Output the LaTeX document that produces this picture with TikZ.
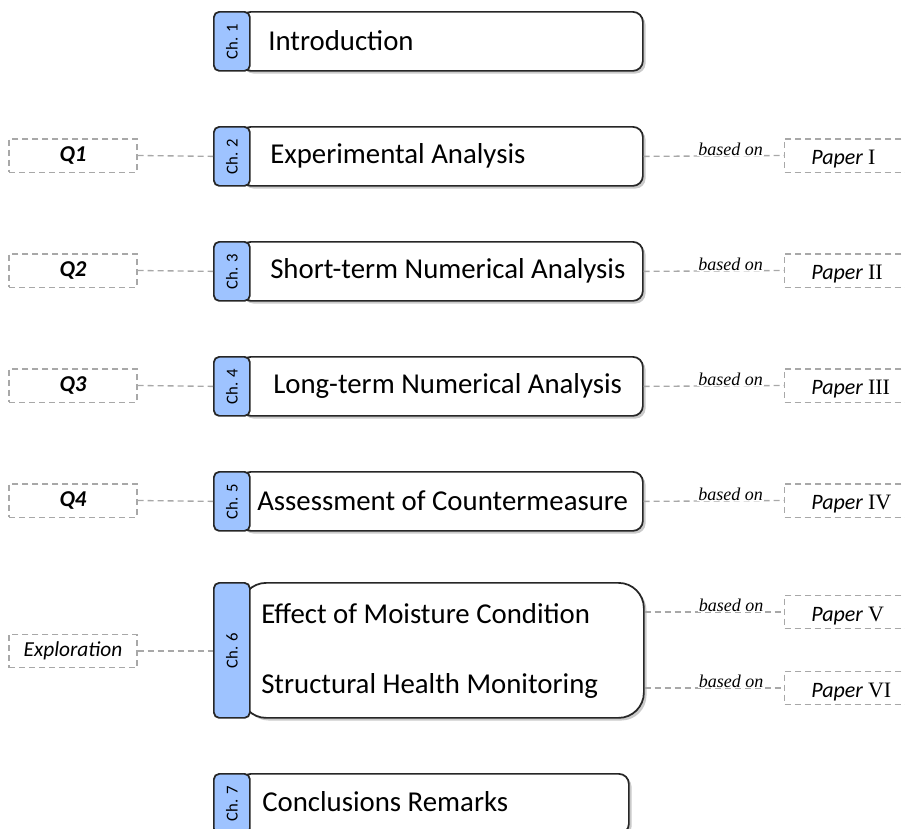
\documentclass[tikz,border=0pt]{standalone}
\usepackage{fontspec}
\setmainfont{Carlito}
\newfontfamily\serifrm{Liberation Serif}
\usetikzlibrary{shadows}
\definecolor{tabblue}{HTML}{9EC3FF}
\definecolor{dgray}{HTML}{A8A8A8}
\begin{document}
\begin{tikzpicture}[x=0.75pt,y=-0.75pt,
  mainbox/.style={draw=black!85, line width=1.3pt, fill=white, rounded corners=7.5pt, anchor=north west, inner sep=0pt,
    drop shadow={shadow xshift=2pt, shadow yshift=-2pt, opacity=0.35, fill=black!60}},
  tabbox/.style={draw=black!85, line width=1.3pt, fill=tabblue, rounded corners=4pt, anchor=north west, inner sep=0pt, minimum width=27pt},
  tabtext/.style={font=\fontsize{12.5}{14}\selectfont, rotate=90, inner sep=0pt},
  titletext/.style={font=\fontsize{21.6}{26}\selectfont, anchor=west, inner sep=0pt},
  sidebox/.style={draw=dgray, line width=1pt, dash pattern=on 4.5pt off 3pt, minimum width=96pt, minimum height=25pt, inner sep=0pt},
  rightbox/.style={sidebox, anchor=west, minimum width=110pt},
  papertext/.style={anchor=west, inner sep=0pt, font=\fontsize{16.5}{19}\selectfont, yshift=-3pt},
  link/.style={draw=dgray, line width=1pt, dash pattern=on 4.5pt off 3pt},
  qtext/.style={font=\fontsize{17}{20}\selectfont\bfseries\itshape},
  etext/.style={font=\fontsize{16}{19}\selectfont\itshape},
  basedon/.style={font=\serifrm\itshape\fontsize{13.5}{15}\selectfont, anchor=base, fill=white, inner xsep=1pt, inner ysep=0.5pt, pos=0.62, yshift=0.6pt}
]
\useasboundingbox (0,0) rectangle (905,828);

% chapter boxes
\newcommand\chapbox[6]{% name, top, height, right, label, corner
  \node[mainbox, rounded corners=#6, minimum width={(#4-240)*0.75pt}, minimum height={#3*0.75pt}] (m#1) at (240,#2) {};
  \node[tabbox, minimum height={#3*0.75pt}] (t#1) at (213,#2) {};
  \node[tabtext] at (t#1.center) {#5};
}
\chapbox{1}{11}{59}{642}{Ch. 1}{7.5pt}
\chapbox{2}{126}{59}{642}{Ch. 2}{7.5pt}
\chapbox{3}{241}{59}{642}{Ch. 3}{7.5pt}
\chapbox{4}{356}{59}{642}{Ch. 4}{7.5pt}
\chapbox{5}{471}{59}{642}{Ch. 5}{7.5pt}
\chapbox{6}{582}{135}{643}{Ch. 6}{19pt}
\chapbox{7}{773}{60}{628}{Ch. 7}{7.5pt}

% titles
\node[titletext] (x1) at (268,40.5) {Introduction};
\node[titletext] (x2) at (270,155.5) {Experimental Analysis};
\node[titletext] (x3) at (270,270.5) {Short-term Numerical Analysis};
\node[titletext] (x4) at (273,385.5) {Long-term Numerical Analysis};
\node[titletext] (x5) at (257,500.5) {Assessment of Countermeasure};
\node[titletext] (x6a) at (261,614) {Effect of Moisture Condition};
\node[titletext] (x6b) at (261,686) {Structural Health Monitoring};
\node[titletext] (x7) at (262,802) {Conclusions Remarks};

% left boxes
\node[sidebox, qtext] (q1) at (73,155.5) {Q1};
\node[sidebox, qtext] (q2) at (73,270.5) {Q2};
\node[sidebox, qtext] (q3) at (73,385.5) {Q3};
\node[sidebox, qtext] (q4) at (73,500.5) {Q4};
\node[sidebox, etext] (q6) at (73,651) {Exploration};
\foreach \i/\j in {q1/t2,q2/t3,q3/t4,q4/t5} \draw[link] (\i.east) -- (\j.west);
\draw[link] (q6.east) -- (q6.east -| t6.west);

% right boxes
\node[rightbox] (p2) at (784,155.5) {};
\node[rightbox] (p3) at (784,270.5) {};
\node[rightbox] (p4) at (784,385.5) {};
\node[rightbox] (p5) at (784,500.5) {};
\node[rightbox] (p6a) at (784,612) {};
\node[rightbox] (p6b) at (784,688) {};
\node[papertext] (r2) at (811,155.5) {\textit{Paper} {\serifrm I}};
\node[papertext] (r3) at (811,270.5) {\textit{Paper} {\serifrm II}};
\node[papertext] (r4) at (811,385.5) {\textit{Paper} {\serifrm III}};
\node[papertext] (r5) at (811,500.5) {\textit{Paper} {\serifrm IV}};
\node[papertext] (r6a) at (811,612) {\textit{Paper} {\serifrm V}};
\node[papertext] (r6b) at (811,688) {\textit{Paper} {\serifrm VI}};
\foreach \i/\j in {m2/p2,m3/p3,m4/p4,m5/p5}
  \draw[link] (\i.east) -- node[basedon]{based on} (\j.west);
\draw[link] (p6a.west -| m6.east) -- node[basedon]{based on} (p6a.west);
\draw[link] (p6b.west -| m6.east) -- node[basedon]{based on} (p6b.west);
\end{tikzpicture}
\end{document}
